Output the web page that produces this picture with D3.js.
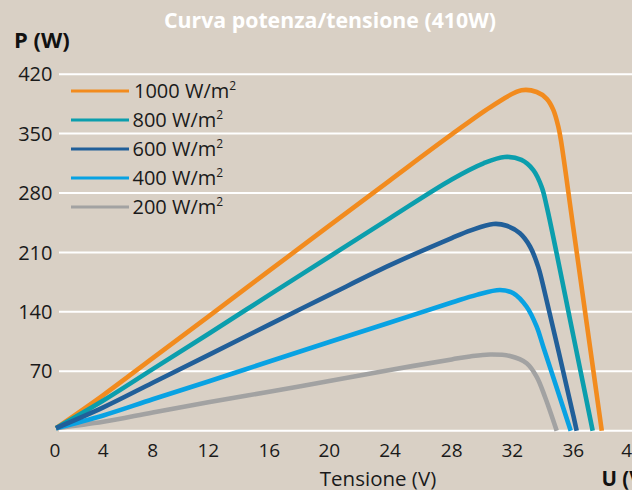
<!DOCTYPE html>
<html>
<head>
<meta charset="utf-8">
<script src="https://cdn.jsdelivr.net/npm/d3@7"></script>
<style>
    body { margin: 0; background: #d9d0c5; }
    svg { display: block; font-family: "Open Sans", "Noto Sans", sans-serif; }
</style>
</head>
<body>
<div id="chart"></div>
<script>
// Tick labels
const voltageTicks = [0, 4, 8, 12, 16, 20, 24, 28, 32, 36, 40];
const powerTicks = [70, 140, 210, 280, 350, 420];
const gridValues = [0, 70, 140, 210, 280, 350, 420];

// Irradiance series (W/m2) as [V, P]
const irradiance = ["1000", "800", "600", "400", "200"];
const seriesColors = ["#f28b1e", "#0b9ead", "#215f99", "#08a2e3", "#a2a2a2"];

const curve1000 = [[0, 3], [4, 42], [8, 85.5], [12, 134.5], [16, 188.5], [20, 241.5], [24, 295], [28, 349],
    [30.75, 383.5], [32.6, 401], [33.6, 399], [34.26, 391], [34.69, 378], [35.02, 358], [35.19, 342],
    [36, 239], [37.94, 0]];
const curve800 = [[0, 3], [4, 35.5], [8, 72.5], [12, 114], [16, 160], [20, 205], [24, 250.5], [28, 296],
    [30.1, 315], [31.5, 322.5], [32.6, 319], [33.38, 307], [33.93, 287], [34.26, 264],
    [36, 112], [37.32, 0]];
const curve600 = [[0, 3], [4, 27.5], [8, 56.5], [12, 89], [16, 125], [20, 160], [24, 195], [28, 227],
    [29.26, 236], [30.75, 243.5], [31.63, 241.5], [32.5, 232.5], [33.16, 217], [33.7, 193],
    [34.14, 162], [36, 18], [36.23, 0]];
const curve400 = [[0, 3], [4, 18], [8, 37], [12, 58], [16, 81.5], [20, 104.5], [24, 127.5], [28, 151],
    [29.65, 160], [31.19, 165.7], [32.07, 162], [32.94, 146], [33.6, 122.5], [34.03, 99], [35.83, 0]];
const curve200 = [[0, 3], [4, 10.5], [8, 21.5], [12, 33.5], [16, 46], [20, 58.5], [24, 71.5], [28, 84],
    [29.21, 87.5], [30.53, 89.8], [31.85, 88], [32.94, 79.5], [33.6, 63.5], [34.14, 40], [34.91, 0]];

const curves = [curve1000, curve800, curve600, curve400, curve200];

const width = 632,
    height = 490;

const svg = d3.select("#chart").append("svg")
    .attr("xmlns", "http://www.w3.org/2000/svg")
    .attr("width", width)
    .attr("height", height);

svg.append("rect")
    .attr("width", width)
    .attr("height", height)
    .attr("fill", "#d9d0c5");

// The printed axis is not evenly spaced, so the scale follows its tick marks
const x = d3.scaleLinear()
    .domain(voltageTicks)
    .range([56, 103.3, 152.7, 208.3, 269.3, 329.3, 390, 451.7, 512.3, 573.3, 632]);
const y = d3.scaleLinear()
    .domain([0, 420])
    .range([430.7, 74.2]);

// Grid
svg.append("g")
    .selectAll("line")
    .data(gridValues)
    .join("line")
    .attr("x1", 59)
    .attr("x2", width)
    .attr("y1", d => y(d))
    .attr("y2", d => y(d))
    .attr("stroke", "#ffffff")
    .attr("stroke-width", 2);

// Y axis labels
svg.append("g")
    .selectAll("text")
    .data(powerTicks)
    .join("text")
    .attr("x", 52.5)
    .attr("y", d => y(d))
    .attr("dy", "0.36em")
    .attr("text-anchor", "end")
    .attr("font-size", 20)
    .attr("fill", "#1a1a1a")
    .text(d => d);

// X axis labels
svg.append("g")
    .selectAll("text")
    .data(voltageTicks)
    .join("text")
    .attr("x", d => x(d) - (d === 0 ? 1 : 0))
    .attr("y", 457.3)
    .attr("text-anchor", "middle")
    .attr("font-size", 19)
    .attr("fill", "#1a1a1a")
    .text(d => d);

// Curves
const line = d3.line()
    .x(d => x(d[0]))
    .y(d => y(d[1]))
    .curve(d3.curveCatmullRom.alpha(0.5));

const drawOrder = [4, 3, 0, 1, 2];
svg.append("g")
    .selectAll("path")
    .data(drawOrder)
    .join("path")
    .attr("d", i => line(curves[i]))
    .attr("fill", "none")
    .attr("stroke", i => seriesColors[i])
    .attr("stroke-width", 4.6)
    .attr("stroke-linejoin", "round");

// Legend
const legend = svg.append("g");
irradiance.forEach((label, i) => {
    const ly = 91 + i * 29;
    legend.append("line")
        .attr("x1", 71)
        .attr("x2", 129)
        .attr("y1", ly)
        .attr("y2", ly)
        .attr("stroke", seriesColors[i])
        .attr("stroke-width", 3);
    const t = legend.append("text")
        .attr("x", i === 0 ? 134 : 132.5)
        .attr("y", ly + 6.8)
        .attr("font-size", 20)
        .attr("fill", "#1a1a1a")
        .text(label + " W/m");
    t.append("tspan")
        .attr("font-size", 12)
        .attr("dy", -8)
        .text("2");
});

// Titles
svg.append("text")
    .attr("x", 330)
    .attr("y", 28)
    .attr("text-anchor", "middle")
    .attr("font-size", 21.3)
    .attr("font-weight", "bold")
    .attr("fill", "#ffffff")
    .text("Curva potenza/tensione (410W)");

svg.append("text")
    .attr("x", 14)
    .attr("y", 47.5)
    .attr("font-size", 22)
    .attr("font-weight", "bold")
    .attr("fill", "#111111")
    .text("P (W)");

svg.append("text")
    .attr("x", 378)
    .attr("y", 485.5)
    .attr("text-anchor", "middle")
    .attr("font-size", 20.5)
    .attr("fill", "#1a1a1a")
    .text("Tensione (V)");

svg.append("text")
    .attr("x", 601.5)
    .attr("y", 485.5)
    .attr("font-size", 20.5)
    .attr("font-weight", "bold")
    .attr("fill", "#111111")
    .text("U (V)");
</script>
</body>
</html>
